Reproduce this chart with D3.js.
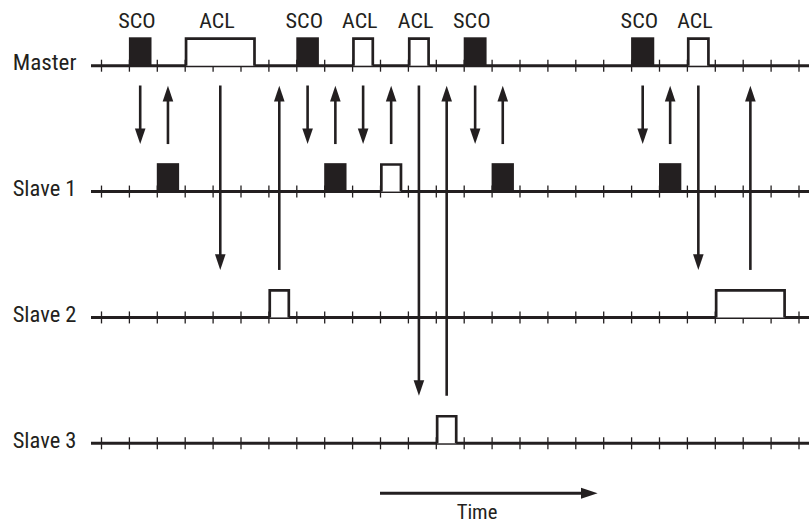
<!DOCTYPE html>
<html>
<head>
<meta charset="utf-8">
<script src="https://cdn.jsdelivr.net/npm/d3@7"></script>
<style>
  html, body { margin: 0; padding: 0; background: #fff; }
  svg { display: block; }
  text { font-family: "Liberation Sans Narrow", "Roboto Condensed", "DejaVu Sans Condensed", "Liberation Sans", sans-serif; fill: #231f20; }
</style>
</head>
<body>
<svg id="chart" width="809" height="524"></svg>
<script>
// ---- data ----
const rows = ["Master", "Slave 1", "Slave 2", "Slave 3"];
const slotTicks = d3.range(0, 26);

const masterStarts  = [1, 3, 7, 9, 11, 13, 19, 21];
const masterLengths = [0.81, 2.55, 0.81, 0.79, 0.79, 0.82, 0.83, 0.82];
const masterTypes   = ["SCO", "ACL", "SCO", "ACL", "ACL", "SCO", "SCO", "ACL"];
const masterTargets = ["Slave 1", "Slave 2", "Slave 1", "Slave 1", "Slave 3", "Slave 1", "Slave 1", "Slave 2"];

const slave1Starts  = [2, 8, 10, 14, 20];
const slave1Lengths = [0.8, 0.8, 0.8, 0.8, 0.8];
const slave1Types   = ["SCO", "SCO", "ACL", "SCO", "SCO"];

const slave2Starts  = [6, 22];
const slave2Lengths = [0.78, 2.55];
const slave2Types   = ["ACL", "ACL"];

const slave3Starts  = [12];
const slave3Lengths = [0.78];
const slave3Types   = ["ACL"];

const timeArrow = [10, 17.8];
const timeLabel = "Time";

// ---- build packets ----
function mk(row, starts, lens, types) {
  return starts.map((s, i) => ({ row, start: s, end: s + lens[i], type: types[i] }));
}
const packets = [
  ...mk("Master", masterStarts, masterLengths, masterTypes),
  ...mk("Slave 1", slave1Starts, slave1Lengths, slave1Types),
  ...mk("Slave 2", slave2Starts, slave2Lengths, slave2Types),
  ...mk("Slave 3", slave3Starts, slave3Lengths, slave3Types)
];

// ---- scales ----
const xs = d3.scaleLinear().domain([0, 25]).range([101, 798.5]);
const ys = d3.scaleLinear().domain([0, rows.length - 1]).range([65.7, 443.3]);
const rowY = r => ys(rows.indexOf(r));

const ink = "#231f20";
const blockH = 28.4;
const svg = d3.select("#chart");

// ---- rows: line, ticks, labels ----
rows.forEach(r => {
  const y = rowY(r);
  const g = svg.append("g");
  const axis = d3.axisBottom(xs).tickValues(slotTicks).tickSizeInner(12).tickSizeOuter(0).tickFormat("");
  const ag = g.append("g").attr("transform", `translate(0,${y - 6})`).call(axis);
  ag.select(".domain").remove();
  ag.selectAll(".tick line").attr("stroke", ink).attr("stroke-width", 1.3);
  g.append("line")
    .attr("x1", 91).attr("x2", 809).attr("y1", y).attr("y2", y)
    .attr("stroke", ink).attr("stroke-width", 3);
  g.append("text")
    .attr("x", 12.7).attr("y", y + 4.6)
    .attr("font-size", 22)
    .attr("textLength", 63.8).attr("lengthAdjust", "spacingAndGlyphs")
    .text(r);
});

// ---- packets ----
const sw = 2.7;
packets.forEach(p => {
  const y = rowY(p.row);
  const x0 = xs(p.start), x1 = xs(p.end);
  if (p.type === "SCO") {
    svg.append("rect")
      .attr("x", x0).attr("y", y - blockH)
      .attr("width", x1 - x0).attr("height", blockH)
      .attr("fill", ink);
  } else {
    const h = sw / 2;
    svg.append("path")
      .attr("d", `M${x0 + h},${y} V${y - blockH + h} H${x1 - h} V${y}`)
      .attr("fill", "#fff").attr("stroke", ink).attr("stroke-width", sw);
  }
});

// ---- top labels ----
packets.filter(p => p.row === "Master").forEach(p => {
  svg.append("text")
    .attr("x", (xs(p.start) + xs(p.end)) / 2 - 3.3)
    .attr("y", 27.5)
    .attr("text-anchor", "middle")
    .attr("font-size", 19.5)
    .attr("textLength", p.type === "SCO" ? 37.5 : 35.5)
    .attr("lengthAdjust", "spacingAndGlyphs")
    .text(p.type);
});

// ---- arrows ----
const headL = 15.6, headW = 5.3;
function arrow(x, yFrom, yTo) {
  const dir = yTo > yFrom ? 1 : -1;
  const base = yTo - dir * headL;
  svg.append("line")
    .attr("x1", x).attr("x2", x).attr("y1", yFrom).attr("y2", base + dir * 1)
    .attr("stroke", ink).attr("stroke-width", 2.6);
  svg.append("path")
    .attr("d", `M${x},${yTo} L${x - headW},${base} L${x + headW},${base} Z`)
    .attr("fill", ink);
}
const masterPk = packets.filter(p => p.row === "Master");
masterPk.forEach((p, i) => {
  const target = masterTargets[i];
  const top = rowY("Master") + 19.8;
  const bottom = rowY(target) - 47.5;
  arrow((xs(p.start) + xs(p.end)) / 2, top, bottom);
  const reply = packets.find(q => q.row === target && q.start > p.start);
  if (reply) arrow((xs(reply.start) + xs(reply.end)) / 2, bottom, top + 0.3);
});

// ---- time arrow ----
const ty = 493.3;
svg.append("line")
  .attr("x1", xs(timeArrow[0])).attr("x2", xs(timeArrow[1]) - 15)
  .attr("y1", ty).attr("y2", ty)
  .attr("stroke", ink).attr("stroke-width", 3);
svg.append("path")
  .attr("d", `M${xs(timeArrow[1])},${ty} L${xs(timeArrow[1]) - 16.6},${ty - 5.5} L${xs(timeArrow[1]) - 16.6},${ty + 5.5} Z`)
  .attr("fill", ink);
svg.append("text")
  .attr("x", 477).attr("y", 519)
  .attr("text-anchor", "middle")
  .attr("font-size", 21)
  .attr("textLength", 40.7).attr("lengthAdjust", "spacingAndGlyphs")
  .text(timeLabel);
</script>
</body>
</html>
